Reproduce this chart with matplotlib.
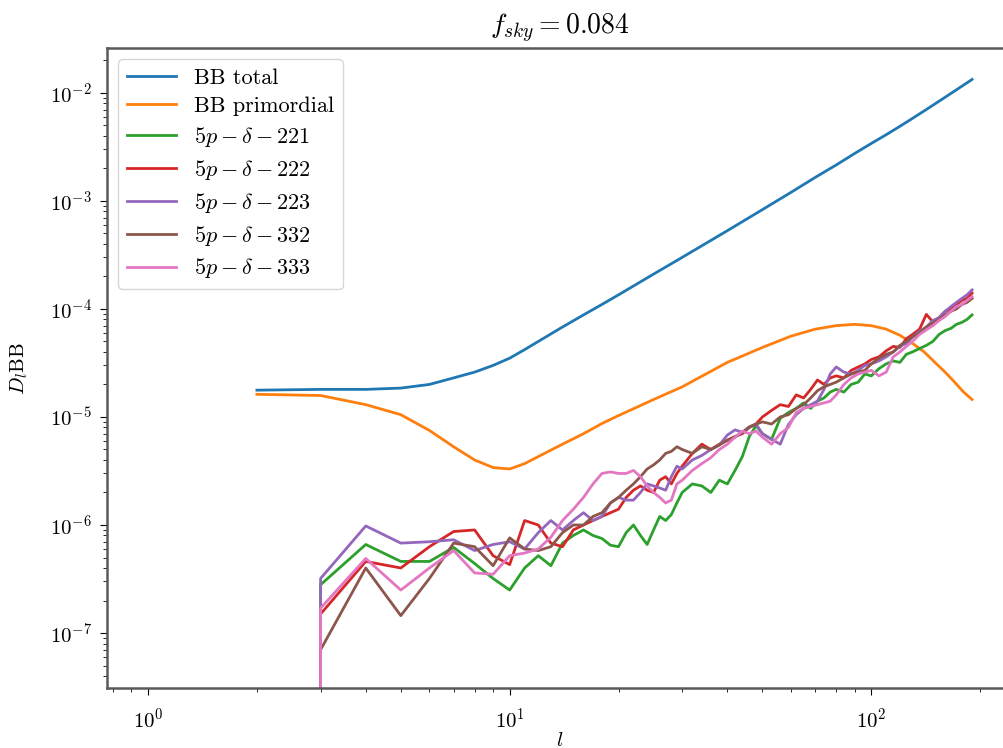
import numpy as np
import matplotlib
matplotlib.use("Agg")
import matplotlib.pyplot as plt

plt.rcParams['font.family'] = 'serif'
plt.rcParams['font.serif'] = ['cmr10', 'DejaVu Serif']
plt.rcParams['mathtext.fontset'] = 'cm'
plt.rcParams['axes.unicode_minus'] = False
plt.rcParams['axes.formatter.use_mathtext'] = True

# smooth spectra
l_bb = [2, 3, 4, 5, 6, 7, 8, 9, 10, 11, 12, 14, 16, 18, 20, 25, 30, 40, 50, 60,
        70, 80, 90, 100, 110, 120, 130, 140, 150, 160, 170, 180, 190]
bb_total = [1.77e-5, 1.8e-5, 1.8e-5, 1.85e-5, 2.0e-5, 2.3e-5, 2.6e-5, 3.0e-5, 3.5e-5,
            4.2e-5, 5.0e-5, 6.8e-5, 8.8e-5, 1.1e-4, 1.35e-4, 2.1e-4, 3.0e-4, 5.3e-4,
            8.3e-4, 1.2e-3, 1.65e-3, 2.15e-3, 2.75e-3, 3.4e-3, 4.1e-3, 4.9e-3, 5.8e-3,
            6.8e-3, 7.9e-3, 9.1e-3, 1.04e-2, 1.18e-2, 1.33e-2]
bb_prim = [1.62e-5, 1.58e-5, 1.3e-5, 1.05e-5, 7.5e-6, 5.3e-6, 4.0e-6, 3.4e-6, 3.3e-6,
           3.7e-6, 4.3e-6, 5.6e-6, 7.0e-6, 8.7e-6, 1.03e-5, 1.45e-5, 1.9e-5, 3.2e-5,
           4.4e-5, 5.6e-5, 6.5e-5, 7.0e-5, 7.2e-5, 7.0e-5, 6.5e-5, 5.7e-5, 4.8e-5,
           4.0e-5, 3.2e-5, 2.6e-5, 2.1e-5, 1.7e-5, 1.45e-5]

# residuals
l_res = [2, 3, 4, 5, 6, 7, 8, 9, 10, 11, 12, 13, 14, 15, 16, 17, 18, 19, 20, 21, 22,
         23, 24, 25, 26, 27, 28, 29, 30, 32, 34, 36, 38, 40, 42, 44, 46, 48, 50, 53,
         56, 59, 62, 65, 68, 71, 74, 77, 80, 84, 88, 92, 96, 100, 105, 110, 115, 120,
         125, 130, 136, 142, 148, 154, 160, 166, 172, 178, 184, 190]
res_221 = [0, 2.8e-7, 6.6e-7, 4.6e-7, 4.6e-7, 6.2e-7, 4.4e-7, 3.2e-7, 2.5e-7, 4.0e-7,
           5.2e-7, 4.2e-7, 6.8e-7, 8.0e-7, 9.0e-7, 8.0e-7, 7.5e-7, 6.5e-7, 6.3e-7,
           8.5e-7, 1.0e-6, 8.0e-7, 6.6e-7, 9e-7, 1.2e-6, 1.1e-6, 1.25e-6, 1.6e-6,
           2.0e-6, 2.4e-6, 2.3e-6, 2.0e-6, 2.6e-6, 2.4e-6, 3.2e-6, 4.3e-6, 6.6e-6,
           8.3e-6, 7.0e-6, 6.2e-6, 9.7e-6, 1.1e-5, 1.2e-5, 1.35e-5, 1.2e-5, 1.4e-5,
           1.5e-5, 1.7e-5, 1.8e-5, 1.7e-5, 2.0e-5, 2.1e-5, 2.5e-5, 2.4e-5, 2.8e-5,
           3.1e-5, 3.3e-5, 3.2e-5, 3.8e-5, 4.0e-5, 4.3e-5, 4.6e-5, 5.0e-5, 5.8e-5,
           6.3e-5, 6.6e-5, 7.2e-5, 7.5e-5, 8.0e-5, 8.8e-5]
res_222 = [0, 1.5e-7, 4.6e-7, 4.0e-7, 6.3e-7, 8.7e-7, 9.0e-7, 5.2e-7, 4.3e-7, 1.1e-6,
           1.0e-6, 6.8e-7, 6.3e-7, 9e-7, 1.0e-6, 1.1e-6, 1.2e-6, 1.3e-6, 1.4e-6, 1.8e-6,
           2.1e-6, 2.3e-6, 2.1e-6, 2.0e-6, 2.6e-6, 2.8e-6, 2.4e-6, 3.0e-6, 3.5e-6,
           4.6e-6, 5.6e-6, 5.0e-6, 5.6e-6, 6.1e-6, 6.6e-6, 7.0e-6, 8.0e-6, 8.6e-6,
           1.0e-5, 1.15e-5, 1.3e-5, 1.25e-5, 1.6e-5, 1.5e-5, 1.8e-5, 2.2e-5, 2.0e-5,
           2.3e-5, 2.4e-5, 2.3e-5, 2.7e-5, 2.9e-5, 3.1e-5, 3.4e-5, 3.6e-5, 4.1e-5,
           4.5e-5, 4.4e-5, 5.3e-5, 5.8e-5, 6.5e-5, 8.9e-5, 7.6e-5, 8.3e-5, 9.5e-5,
           1.0e-4, 1.1e-4, 1.2e-4, 1.25e-4, 1.4e-4]
res_223 = [0, 3.2e-7, 9.8e-7, 6.8e-7, 7.0e-7, 7.3e-7, 5.8e-7, 6.6e-7, 7.0e-7, 6.0e-7,
           8.5e-7, 1.1e-6, 9e-7, 1.1e-6, 1.3e-6, 1.1e-6, 1.2e-6, 1.6e-6, 1.8e-6, 1.7e-6,
           1.7e-6, 2.0e-6, 2.4e-6, 2.3e-6, 2.2e-6, 2.1e-6, 2.8e-6, 3.5e-6, 3.3e-6,
           4.0e-6, 4.4e-6, 5.0e-6, 5.5e-6, 6.8e-6, 7.6e-6, 7.2e-6, 8.0e-6, 8.6e-6,
           7.0e-6, 6.2e-6, 5.6e-6, 8.5e-6, 1.05e-5, 1.2e-5, 1.3e-5, 1.4e-5, 1.8e-5,
           2.5e-5, 2.9e-5, 2.6e-5, 2.5e-5, 2.7e-5, 3.0e-5, 3.1e-5, 3.3e-5, 3.6e-5,
           4.0e-5, 4.5e-5, 4.8e-5, 5.5e-5, 6.2e-5, 6.8e-5, 7.8e-5, 8.3e-5, 9.5e-5,
           1.05e-4, 1.15e-4, 1.25e-4, 1.35e-4, 1.5e-4]
res_332 = [0, 7e-8, 4.0e-7, 1.45e-7, 3.2e-7, 6.8e-7, 6.3e-7, 4.2e-7, 7.6e-7, 6.0e-7,
           5.8e-7, 6.3e-7, 8.5e-7, 1.0e-6, 1.0e-6, 1.2e-6, 1.3e-6, 1.6e-6, 1.8e-6,
           2.1e-6, 2.4e-6, 2.8e-6, 3.3e-6, 3.6e-6, 4.0e-6, 4.6e-6, 4.8e-6, 5.3e-6,
           5.0e-6, 4.6e-6, 5.3e-6, 5.0e-6, 5.5e-6, 6.1e-6, 6.5e-6, 7.2e-6, 8.1e-6,
           8.6e-6, 9.0e-6, 8.6e-6, 1.0e-5, 1.05e-5, 1.2e-5, 1.3e-5, 1.5e-5, 1.75e-5,
           1.9e-5, 2.0e-5, 2.1e-5, 2.3e-5, 2.5e-5, 2.6e-5, 2.7e-5, 3.1e-5, 3.5e-5,
           3.8e-5, 4.0e-5, 4.6e-5, 5.0e-5, 5.5e-5, 6.0e-5, 6.8e-5, 7.4e-5, 8.0e-5,
           8.8e-5, 9.5e-5, 1.0e-4, 1.1e-4, 1.15e-4, 1.25e-4]
res_333 = [0, 1.7e-7, 4.9e-7, 2.5e-7, 4.0e-7, 5.8e-7, 3.6e-7, 3.5e-7, 5.2e-7, 5.5e-7,
           6.0e-7, 7.7e-7, 1.1e-6, 1.4e-6, 1.8e-6, 2.4e-6, 3.0e-6, 3.1e-6, 3.0e-6,
           3.0e-6, 3.2e-6, 2.8e-6, 2.3e-6, 2.0e-6, 1.8e-6, 1.6e-6, 1.7e-6, 2.4e-6,
           2.6e-6, 3.2e-6, 3.7e-6, 4.2e-6, 5.0e-6, 5.6e-6, 6.5e-6, 7.4e-6, 7.0e-6,
           7.4e-6, 6.5e-6, 5.6e-6, 7.0e-6, 8.0e-6, 1.1e-5, 1.2e-5, 1.25e-5, 1.3e-5,
           1.35e-5, 1.4e-5, 1.6e-5, 2.0e-5, 2.3e-5, 2.5e-5, 2.6e-5, 2.7e-5, 2.4e-5,
           2.6e-5, 3.6e-5, 4.0e-5, 4.5e-5, 5.0e-5, 5.8e-5, 6.4e-5, 7.0e-5, 7.8e-5,
           8.5e-5, 9.5e-5, 1.05e-4, 1.1e-4, 1.2e-4, 1.3e-4]

fig = plt.figure(figsize=(10.04, 7.48), dpi=100)
ax = fig.add_axes([107 / 1004, 60 / 748, 905 / 1004, 640 / 748])

ax.plot(l_bb, bb_total, label='BB total', lw=2)
ax.plot(l_bb, bb_prim, label='BB primordial', lw=2)
ax.plot(l_res, res_221, label=r'$5p-\delta-221$', lw=2)
ax.plot(l_res, res_222, label=r'$5p-\delta-222$', lw=2)
ax.plot(l_res, res_223, label=r'$5p-\delta-223$', lw=2)
ax.plot(l_res, res_332, label=r'$5p-\delta-332$', lw=2)
ax.plot(l_res, res_333, label=r'$5p-\delta-333$', lw=2)

ax.set_xscale('log')
ax.set_yscale('log')
ax.set_xlim(0.77, 245)
ax.set_ylim(3.1e-8, 2.6e-2)
ax.set_xticks([1, 10, 100])
ax.set_yticks([1e-7, 1e-6, 1e-5, 1e-4, 1e-3, 1e-2])

for s in ax.spines.values():
    s.set_color('0.35')
    s.set_linewidth(1.8)
ax.tick_params(which='major', labelsize=15, length=5, pad=6)
ax.tick_params(which='minor', length=3)
ax.tick_params(axis='x', which='major', pad=9)

ax.set_title(r'$f_{sky} = 0.084$', fontsize=20, pad=10)
ax.set_xlabel(r'$l$', fontsize=15, labelpad=0)
ax.set_ylabel(r'$D_l$BB', fontsize=15, labelpad=14)
ax.legend(loc='upper left', fontsize=16, labelspacing=0.4, handlelength=2.2)

fig.savefig('out.png', dpi=100)
